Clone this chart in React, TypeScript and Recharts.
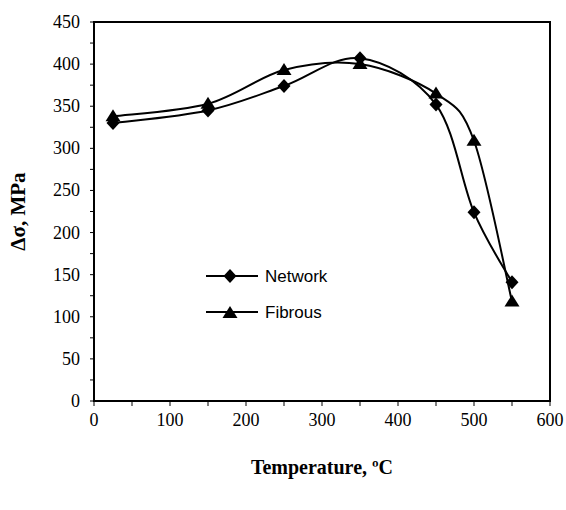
import React from 'react';
import { LineChart, Line, XAxis, YAxis, ReferenceArea } from 'recharts';

document.body.style.margin = '0';

const temps = [25, 150, 250, 350, 450, 500, 550];
const network = [330, 345, 374, 407, 352, 224, 141];
const fibrous = [338, 353, 393, 400, 365, 309, 118];
const xTicks = [0, 50, 100, 150, 200, 250, 300, 350, 400, 450, 500, 550, 600];
const yTicks = [0, 25, 50, 75, 100, 125, 150, 175, 200, 225, 250, 275, 300, 325, 350, 375, 400, 425, 450];

const data = temps.map((t, i) => ({ t, network: network[i], fibrous: fibrous[i] }));

const SERIF = "'Liberation Serif', 'Times New Roman', serif";
const SANS = "'Liberation Sans', Arial, sans-serif";

// excel-like smoothed line (catmull-rom bezier)
const smooth = (context: any) => {
  let pts: number[][] = [];
  return {
    areaStart() {},
    areaEnd() {},
    lineStart() { pts = []; },
    point(x: number, y: number) { pts.push([+x, +y]); },
    lineEnd() {
      if (!pts.length) return;
      context.moveTo(pts[0][0], pts[0][1]);
      for (let i = 0; i < pts.length - 1; i++) {
        const p0 = pts[i - 1] || pts[i];
        const p1 = pts[i];
        const p2 = pts[i + 1];
        const p3 = pts[i + 2] || p2;
        context.bezierCurveTo(
          p1[0] + (p2[0] - p0[0]) / 6, p1[1] + (p2[1] - p0[1]) / 6,
          p2[0] - (p3[0] - p1[0]) / 6, p2[1] - (p3[1] - p1[1]) / 6,
          p2[0], p2[1]
        );
      }
    },
  };
};

const Diamond = (props: any) => {
  const { cx, cy } = props;
  if (cx == null || cy == null) return null;
  return <path d={`M${cx},${cy - 7}L${cx + 6.5},${cy}L${cx},${cy + 7}L${cx - 6.5},${cy}Z`} fill="#000" />;
};

const Triangle = (props: any) => {
  const { cx, cy } = props;
  if (cx == null || cy == null) return null;
  return <path d={`M${cx},${cy - 7}L${cx + 7.5},${cy + 5}L${cx - 7.5},${cy + 5}Z`} fill="#000" />;
};

const XTick = (props: any) => {
  const { x, y, payload } = props;
  if (payload.value % 100 !== 0) return null;
  return (
    <text x={x} y={y + 14} textAnchor="middle" style={{ fontFamily: SERIF, fontSize: 18, fill: '#000' }}>
      {payload.value}
    </text>
  );
};

const YTick = (props: any) => {
  const { x, y, payload } = props;
  if (payload.value % 50 !== 0) return null;
  return (
    <text x={x - 2} y={y + 6} textAnchor="end" style={{ fontFamily: SERIF, fontSize: 18, fill: '#000' }}>
      {payload.value}
    </text>
  );
};

export default function App() {
  return (
    <div style={{ position: 'relative', width: 566, height: 510, background: '#fff' }}>
      <LineChart width={566} height={510} data={data} margin={{ top: 22, right: 16, bottom: 0, left: 0 }}>
        <XAxis
          dataKey="t"
          type="number"
          domain={[0, 600]}
          ticks={xTicks}
          interval={0}
          tick={<XTick />}
          tickSize={5}
          tickMargin={6}
          axisLine={{ stroke: '#000', strokeWidth: 2 }}
          tickLine={{ stroke: '#000', strokeWidth: 1 }}
          height={109}
          label={{
            value: 'Temperature, \u00baC',
            position: 'insideBottom',
            offset: 36,
            style: { fontFamily: SERIF, fontSize: 20, fontWeight: 'bold', fill: '#000' },
          }}
        />
        <YAxis
          type="number"
          domain={[0, 450]}
          ticks={yTicks}
          interval={0}
          tick={<YTick />}
          tickSize={4}
          tickMargin={8}
          axisLine={{ stroke: '#000', strokeWidth: 2 }}
          tickLine={{ stroke: '#000', strokeWidth: 1 }}
          width={94}
          label={{
            value: '\u0394\u03c3,  MPa',
            angle: -90,
            position: 'insideLeft',
            offset: 18,
            style: { fontFamily: SERIF, fontSize: 21, fontWeight: 'bold', fill: '#000', textAnchor: 'middle' },
          }}
        />
        <ReferenceArea x1={0} x2={600} y1={0} y2={450} fill="none" stroke="#000" strokeWidth={2} ifOverflow="visible" />
        <Line
          dataKey="network"
          name="Network"
          type={smooth as any}
          stroke="#000"
          strokeWidth={2}
          dot={<Diamond />}
          activeDot={false}
          isAnimationActive={false}
        />
        <Line
          dataKey="fibrous"
          name="Fibrous"
          type={smooth as any}
          stroke="#000"
          strokeWidth={2}
          dot={<Triangle />}
          activeDot={false}
          isAnimationActive={false}
        />
      </LineChart>
      <svg width={140} height={60} style={{ position: 'absolute', left: 206, top: 266, overflow: 'visible' }}>
        <line x1={0} y1={10} x2={52} y2={10} stroke="#000" strokeWidth={2} />
        <Diamond cx={24} cy={10} />
        <text x={59} y={16} fontFamily={SANS} fontSize={17}>Network</text>
        <line x1={0} y1={46} x2={52} y2={46} stroke="#000" strokeWidth={2} />
        <Triangle cx={24} cy={47} />
        <text x={59} y={52} fontFamily={SANS} fontSize={17}>Fibrous</text>
      </svg>
    </div>
  );
}
